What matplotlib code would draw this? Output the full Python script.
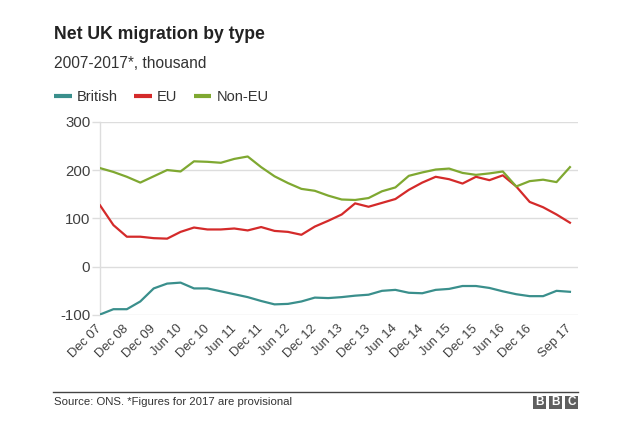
import matplotlib
matplotlib.use("Agg")
import matplotlib.pyplot as plt
from matplotlib.lines import Line2D
from matplotlib.patches import Rectangle

plt.rcParams['font.family'] = ['Liberation Sans', 'DejaVu Sans']

periods = ["Dec 07", "Jun 08", "Dec 08", "Jun 09", "Dec 09", "Mar 10", "Jun 10", "Sep 10",
           "Dec 10", "Mar 11", "Jun 11", "Sep 11", "Dec 11", "Mar 12", "Jun 12", "Sep 12",
           "Dec 12", "Mar 13", "Jun 13", "Sep 13", "Dec 13", "Mar 14", "Jun 14", "Sep 14",
           "Dec 14", "Mar 15", "Jun 15", "Sep 15", "Dec 15", "Mar 16", "Jun 16", "Sep 16",
           "Dec 16", "Mar 17", "Jun 17", "Sep 17"]
tick_labels = ["Dec 07", "Dec 08", "Dec 09", "Jun 10", "Dec 10", "Jun 11", "Dec 11", "Jun 12",
               "Dec 12", "Jun 13", "Dec 13", "Jun 14", "Dec 14", "Jun 15", "Dec 15", "Jun 16",
               "Dec 16", "Sep 17"]

british = [-99, -88, -88, -72, -45, -35, -33, -45, -45, -51, -57, -63, -71, -78, -77, -72,
           -64, -65, -63, -60, -58, -50, -48, -54, -55, -48, -46, -40, -40, -44, -51, -57,
           -61, -61, -50, -52]
eu = [127, 86, 62, 62, 59, 58, 72, 81, 77, 77, 79, 75, 82, 74, 72, 66,
      83, 95, 108, 131, 124, 132, 140, 159, 174, 186, 181, 172, 186, 179, 189, 166,
      134, 123, 108, 91]
non_eu = [204, 196, 186, 174, 187, 200, 197, 218, 217, 215, 223, 228, 206, 187, 173, 161,
          157, 147, 139, 138, 142, 156, 164, 188, 195, 201, 203, 194, 190, 193, 197, 166,
          177, 180, 175, 206]

series = [("British", british, "#3a8f8c"), ("EU", eu, "#d42a2a"), ("Non-EU", non_eu, "#7fa831")]

W, H = 629, 443
fig = plt.figure(figsize=(W / 100, H / 100), dpi=100)
fig.patch.set_facecolor("white")

ax_l, ax_r, ax_t, ax_b = 100, 578, 121.7, 315
ax = fig.add_axes([ax_l / W, 1 - ax_b / H, (ax_r - ax_l) / W, (ax_b - ax_t) / H])

x = list(range(len(periods)))
handles = []
for name, vals, col in series:
    h, = ax.plot(x, vals, color=col, lw=1.6, solid_joinstyle="round", label=name, zorder=3)
    handles.append(h)

ax.set_ylim(-100, 300)
ax.set_xlim(0, 35.6)
ax.set_yticks([-100, 0, 100, 200, 300])
ax.set_yticklabels(["-100", "0", "100", "200", "300"])
tick_pos = [periods.index(t) for t in tick_labels]
ax.set_xticks(tick_pos)
ax.set_xticklabels(tick_labels, rotation=45, ha="right", va="center", rotation_mode="anchor")
ax.tick_params(axis="x", length=0, pad=8.5, labelsize=9.3, labelcolor="#404040")
ax.tick_params(axis="y", length=6, width=1, color="#dddddd", pad=1.0, labelsize=10.8,
               labelcolor="#404040")
ax.grid(axis="y", color="#dddddd", lw=1, zorder=0)
for s in ["top", "right", "bottom"]:
    ax.spines[s].set_visible(False)
ax.spines["left"].set_color("#dddddd")
ax.spines["left"].set_linewidth(1)

fig.text(54 / W, 1 - 34.5 / H, "Net UK migration by type", fontsize=12.7, fontweight="bold",
         color="#222222", va="center", ha="left")
fig.text(54 / W, 1 - 64 / H, "2007-2017*, thousand", fontsize=11.2, color="#333333",
         va="center", ha="left")

leg = fig.legend(handles=handles, loc="center left", bbox_to_anchor=(54 / W, 1 - 97 / H),
                 ncol=3, frameon=False, fontsize=10.5, handlelength=1.2, handletextpad=0.36,
                 columnspacing=1.12, borderpad=0, borderaxespad=0)
for t in leg.get_texts():
    t.set_color("#333333")
for lh in leg.legend_handles:
    lh.set_linewidth(3)
    lh.set_solid_capstyle("butt")

fig.add_artist(Line2D([53 / W, 578 / W], [1 - 391.5 / H, 1 - 391.5 / H], color="#444444",
                      lw=1, transform=fig.transFigure))
fig.text(54 / W, 1 - 402 / H, "Source: ONS. *Figures for 2017 are provisional", fontsize=8.2,
         color="#333333", va="center", ha="left")

for i, letter in enumerate(["B", "B", "C"]):
    x0 = 533 + i * 16
    fig.add_artist(Rectangle((x0 / W, 1 - 408.5 / H), 13 / W, 13 / H, transform=fig.transFigure,
                             facecolor="#5f5f5f", edgecolor="none"))
    fig.text((x0 + 6.5) / W, 1 - 402 / H, letter, fontsize=8.5, fontweight="bold", color="white",
             ha="center", va="center")

fig.savefig("out.png", dpi=100, facecolor="white")
